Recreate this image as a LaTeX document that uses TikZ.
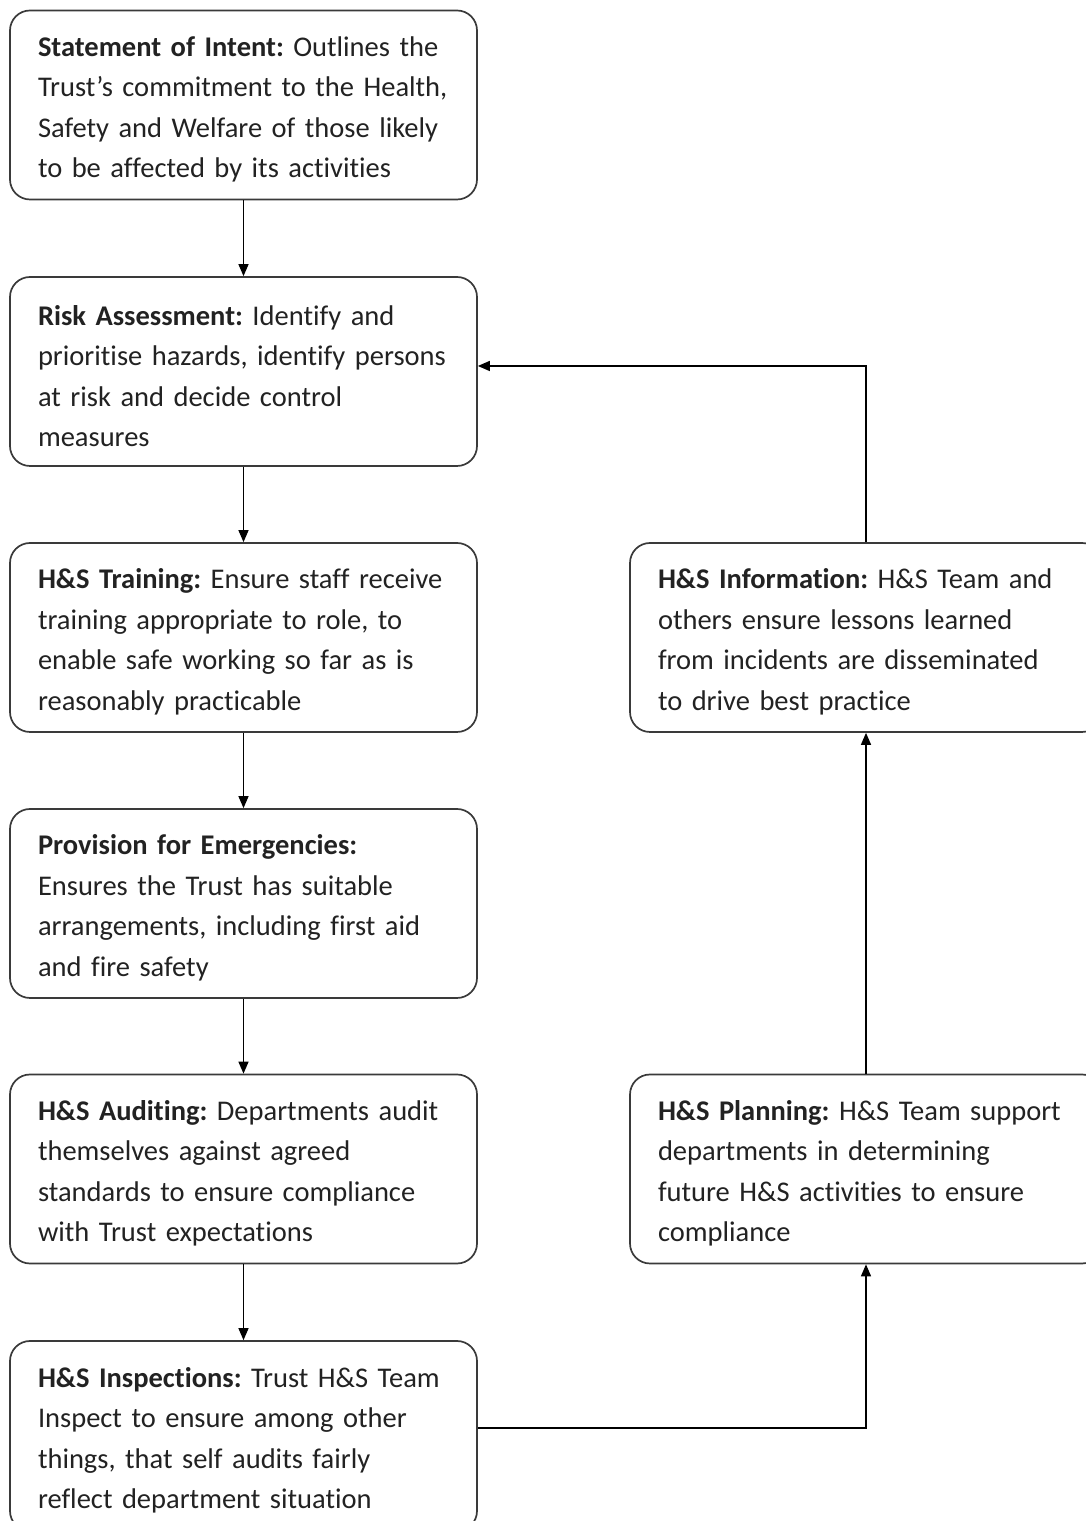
\documentclass[tikz,border=0pt]{standalone}
\usepackage{fontspec}
\setmainfont[Ligatures=NoCommon]{Carlito}
\usetikzlibrary{arrows.meta}
\definecolor{txt}{HTML}{222222}
\definecolor{edge}{HTML}{3A3A3A}
\tikzset{
  box/.style={draw=edge, line width=1.7pt, rounded corners=20pt, fill=white,
    minimum height=189pt, inner xsep=28pt, inner ysep=0pt,
    text width=411pt, align=left, text=txt,
    font=\fontsize{28.5pt}{40.5pt}\selectfont\frenchspacing},
  rbox/.style={box, text width=416pt},
  arr/.style={line width=1.4pt, -{Triangle[length=12pt,width=10pt]}}
}
\newcommand{\txf}[1]{\mbox{\rule{0pt}{29pt}#1}\\}
\newcommand{\txl}[1]{\mbox{#1}\\}
\newcommand{\txe}[1]{\mbox{#1}}
\begin{document}
\begin{tikzpicture}[x=1pt,y=1pt]
\useasboundingbox (0,0) rectangle (1086,1521);
\clip (0,0) rectangle (1086,1521);
\fill[white] (0,0) rectangle (1086,1521);
\node[box] (b1) at (243.5,1416) {\txf{\textbf{Statement of Intent:} Outlines the}\txl{Trust’s commitment to the Health,}\txl{Safety and Welfare of those likely}\txe{to be affected by its activities}};
\node[box] (b2) at (243.5,1149.5) {\txf{\textbf{Risk Assessment:} Identify and}\txl{prioritise hazards, identify persons}\txl{at risk and decide control}\txe{measures}};
\node[box] (b3) at (243.5,883.5) {\txf{\textbf{H\&S Training:} Ensure staff receive}\txl{training appropriate to role, to}\txl{enable safe working so far as is}\txe{reasonably practicable}};
\node[box] (b4) at (243.5,617.5) {\txf{\textbf{Provision for Emergencies:}}\txl{Ensures the Trust has suitable}\txl{arrangements, including first aid}\txe{and fire safety}};
\node[box] (b5) at (243.5,352) {\txf{\textbf{H\&S Auditing:} Departments audit}\txl{themselves against agreed}\txl{standards to ensure compliance}\txe{with Trust expectations}};
\node[box, minimum height=190pt] (b6) at (243.5,85) {\txf{\textbf{H\&S Inspections:} Trust H\&S Team}\txl{Inspect to ensure among other}\txl{things, that self audits fairly}\txe{reflect department situation}};
\node[rbox] (b7) at (866,883.5) {\txf{\textbf{H\&S Information:} H\&S Team and}\txl{others ensure lessons learned}\txl{from incidents are disseminated}\txe{to drive best practice}};
\node[rbox] (b8) at (866,352) {\txf{\textbf{H\&S Planning:} H\&S Team support}\txl{departments in determining}\txl{future H\&S activities to ensure}\txe{compliance}};
\draw[arr] (b1) -- (b2);
\draw[arr] (b2) -- (b3);
\draw[arr] (b3) -- (b4);
\draw[arr] (b4) -- (b5);
\draw[arr] (b5) -- (b6);
\draw[arr] ([yshift=8pt]b6.east) -| (b8.south);
\draw[arr] (b8) -- (b7);
\draw[arr] (b7.north) |- ([yshift=5.5pt]b2.east);
\end{tikzpicture}
\end{document}
